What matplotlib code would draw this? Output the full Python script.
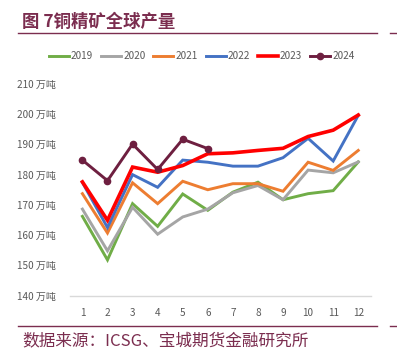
#!/usr/bin/env python3
"""Global copper concentrate output by month, 2019-2024."""

import matplotlib
matplotlib.use("Agg")
import matplotlib.pyplot as plt  # type: ignore

months = list(range(1, 13))
years = ["2019", "2020", "2021", "2022", "2023", "2024"]

# 万吨
out_2019 = [166.2, 151.8, 170.4, 162.9, 173.6, 168.2, 174.2, 177.5, 171.7, 173.7, 174.7, 184.2]
out_2020 = [168.6, 154.8, 169.2, 160.3, 166.0, 168.6, 174.0, 176.4, 171.7, 181.5, 180.6, 184.2]
out_2021 = [173.7, 160.7, 177.3, 170.4, 177.8, 175.0, 177.0, 177.0, 174.5, 184.1, 181.4, 188.0]
out_2022 = [177.4, 162.5, 180.0, 175.8, 184.8, 184.1, 182.8, 182.8, 185.6, 192.0, 184.5, 199.6]
out_2023 = [177.6, 164.9, 182.5, 180.8, 183.0, 186.9, 187.2, 188.0, 188.7, 192.6, 194.7, 199.7]
out_2024 = [184.8, 178.0, 190.1, 181.7, 191.7, 188.6]

colors = ["#70AD47", "#A5A5A5", "#ED7D31", "#4472C4", "#FF0000", "#6E1F40"]
MAROON = "#7B2D4F"
CJK = ["Noto Sans CJK SC", "DejaVu Sans"]


def main():
    """Draw and save."""
    plt.rcParams["font.family"] = CJK
    fig = plt.figure(figsize=(3.97, 3.57), dpi=100)
    ax = fig.add_axes([0.176, 0.172, 0.758, 0.593])

    series = [out_2019, out_2020, out_2021, out_2022, out_2023]
    for label, vals, col in zip(years[:5], series, colors[:5]):
        ax.plot(months, vals, color=col, lw=2.6 if label == "2023" else 2.1,
                label=label, solid_joinstyle="miter")
    ax.plot(months[:len(out_2024)], out_2024, color=colors[5], lw=2.1,
            marker="o", markersize=4.5, label=years[5])

    ax.set_xlim(0.5, 12.5)
    ax.set_ylim(140, 210)
    ax.set_xticks(months)
    ax.set_yticks(range(140, 211, 10))
    ax.set_yticklabels([f"{v} 万吨" for v in range(140, 211, 10)])
    for side in ("top", "right", "left"):
        ax.spines[side].set_visible(False)
    ax.spines["bottom"].set_color("#D9D9D9")
    ax.spines["bottom"].set_linewidth(1.0)
    ax.tick_params(length=0, labelsize=7.2, colors="#595959")
    ax.tick_params(axis="x", pad=9)
    ax.tick_params(axis="y", pad=10)

    fig.legend(loc="center", bbox_to_anchor=(0.508, 0.843), ncol=6,
               frameon=False, fontsize=7.2, handlelength=2.0,
               handletextpad=0.2, columnspacing=0.8, labelcolor="#595959")

    fig.text(0.055, 0.938, "图 7铜精矿全球产量", color=MAROON,
             fontsize=12.5, fontweight="bold", va="center")
    fig.add_artist(plt.Line2D([0.045, 0.95], [0.907, 0.907],
                              color=MAROON, lw=1.0))
    fig.add_artist(plt.Line2D([0.983, 1.0], [0.907, 0.907],
                              color=MAROON, lw=1.0))
    fig.add_artist(plt.Line2D([0.045, 0.95], [0.086, 0.086],
                              color=MAROON, lw=1.0))
    fig.add_artist(plt.Line2D([0.983, 1.0], [0.086, 0.086],
                              color=MAROON, lw=1.0))
    fig.text(0.055, 0.045, "数据来源：ICSG、宝城期货金融研究所", color=MAROON,
             fontsize=12, va="center")

    fig.savefig("out.png", dpi=100)


if __name__ == "__main__":
    main()
